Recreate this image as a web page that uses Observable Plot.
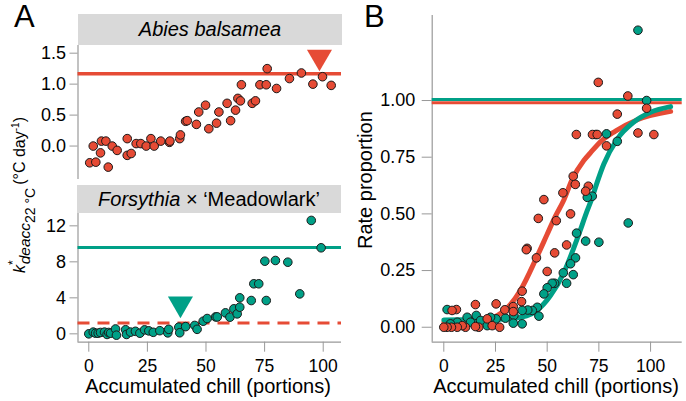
<!DOCTYPE html>
<html><head><meta charset="utf-8">
<script src="https://cdn.jsdelivr.net/npm/d3@7"></script>
<script src="https://cdn.jsdelivr.net/npm/@observablehq/plot@0.6"></script>
<style>
body{margin:0;background:#fff;font-family:"Liberation Sans",Arial,Helvetica,sans-serif;}
#root{position:relative;width:686px;height:401px;overflow:hidden;background:#fff;}
#root svg{position:absolute;left:0;top:0;}
.lbl{position:absolute;white-space:nowrap;color:#000;line-height:24px;}
.strip{position:absolute;background:#d9d9d9;text-align:center;font-size:20px;color:#000;}
</style></head><body><div id="root"></div>
<script>
const RED = "#E64B35", TEAL = "#00A087", AXIS = "#999999";

// Panel A (top): Abies balsamea, k*deacc (°C day-1)
const abiesChill = [0.4,3.0,5.0,1.9,5.4,7.3,10.0,12.1,8.3,16.4,18.1,16.4,20.2,22.2,24.5,26.5,27.9,30.7,34.4,34.6,38.8,39.1,41.3,42.0,45.9,46.9,49.8,51.2,54.5,55.5,59.0,60.5,62.6,63.6,64.7,65.1,69.7,71.1,73.0,75.7,76.1,80.1,85.6,90.7,95.6,99.7,103.4];
const abiesK     = [-0.27,-0.26,-0.11,0.0,0.08,0.08,0.0,-0.07,-0.34,-0.15,-0.12,0.12,0.04,0.04,0.0,0.12,0.0,0.08,0.06,0.08,0.12,0.18,0.40,0.41,0.35,0.55,0.66,0.28,0.37,0.55,0.69,0.41,0.58,0.77,0.73,0.99,0.69,0.73,0.99,0.99,1.25,0.93,1.09,1.18,1.00,1.12,0.98];
const abiesPlateau = 1.166;

// Panel A (bottom): Forsythia x 'Meadowlark'
const forsChill = [0,1.9,2.9,4.0,5.0,6.7,7.8,8.5,9.3,11.4,11.8,15.7,16.1,17.8,19.9,21.8,23.8,25.6,27.5,30.3,33.7,34.1,38.4,38.8,41.3,45.2,46.2,48.8,50.5,54.1,54.8,58.3,60.2,61.9,63.3,64.4,64.4,69.3,70.4,72.5,75.1,75.7,79.6,84.9,90.0,94.9,99.1];
const forsK     = [0,0.19,0.07,0.07,0.15,0.19,-0.07,0.15,0.07,0.54,-0.15,0.45,-0.07,0.19,0.28,0.07,0.44,0.33,0.17,0.35,0.11,0.5,0.74,0.12,0.8,0.93,0.5,1.4,1.7,1.88,1.88,2.33,1.85,2.78,2.22,2.96,4.0,3.7,5.56,5.56,8.07,3.7,8.15,7.96,4.44,12.6,9.56];
const forsPlateau = 9.6;
const abiesPlateauOnForsythia = 1.2;

// Onset markers (triangles)
const onsetChill = [98.4, 39.1];
const onsetK = [1.44, 3.34];

// Panel B: rate proportion
const propAbiesChill = [74.7,89.0,98.1,83.9,64.1,71.9,74.2,93.9,101.6,78.7,62.6,63.6,57.6,69.9,68.6,48.4,45.7,54.4,61.3,40.3,39.9,59.4,53.6,44.8,50.0,37.9,37.6,25.3,15.3,33.6,29.5,6.1,4.0,33.6,21.0,23.4,27.0,16.9,15.3,10.5,8.9,6.5,3.7,1.6,0];
const propAbies      = [1.08,1.02,0.966,0.94,0.85,0.85,0.85,0.857,0.85,0.80,0.666,0.63,0.593,0.622,0.60,0.563,0.48,0.47,0.50,0.348,0.342,0.363,0.328,0.306,0.246,0.159,0.113,0.103,0.10,0.091,0.077,0.078,0.074,0.069,0.037,0.007,0.0,0.0,0.003,0.0,0.007,0.0,0.0,0.0,0.0];
const propForsChill = [93.9,98.1,73.5,78.7,83.9,71.8,69.4,89.2,64.2,68.6,75.0,63.7,61.3,57.8,62.6,53.6,52.4,59.4,50.0,48.4,45.2,42.8,40.6,37.9,46.0,33.9,37.9,33.6,29.8,25.3,15.7,11.3,21.0,17.8,22.6,1.6,6.5,3.2,12.9];
const propFors      = [1.31,1.0,0.85,0.853,0.82,0.578,0.573,0.46,0.415,0.38,0.375,0.306,0.28,0.24,0.232,0.194,0.194,0.194,0.174,0.147,0.088,0.074,0.076,0.074,0.049,0.052,0.015,0.018,0.04,0.037,0.052,0.044,0.007,0.03,0.044,0.078,0.022,0.015,0.022];
const propPlateauAbies = 0.99, propPlateauFors = 1.005;

// fitted curves
const fitAbiesChill = [0,10,20,26,31,37,45,50,54,58,62,67.7,71,76,83,93.6,109.7];
const fitAbies      = [0.022,0.024,0.034,0.052,0.088,0.162,0.31,0.41,0.49,0.56,0.65,0.735,0.77,0.82,0.865,0.915,0.952];
const fitForsChill  = [0,20,30,36,40,45,51.6,58,64.5,69.4,71.8,74.2,77.4,83.9,91.9,100,109.7];
const fitFors       = [0.032,0.034,0.036,0.042,0.05,0.074,0.14,0.24,0.39,0.515,0.573,0.64,0.72,0.83,0.905,0.948,0.973];

const xTicks = [0,25,50,75,100];
const kTicksA = [0,0.5,1,1.5];
const kTicksF = [0,4,8,12];
const propTicks = [0,0.25,0.5,0.75,1];

const zip = (xs, ys) => xs.map((x, i) => ({x, y: ys[i]}));

function panel({frame, xDomain, yDomain, xAxis, yTicks, yFmt, tick, marks}) {
  const [l, t, r, b] = frame;
  const m = [
    Plot.ruleX([xDomain[0]], {stroke: AXIS, strokeWidth: 1.2}),
    Plot.axisY(yTicks, {anchor: "left", label: null, tickSize: tick.ySize, tickPadding: tick.yPad, stroke: AXIS, fill: "#000", tickFormat: yFmt})
  ];
  if (xAxis) {
    m.push(Plot.ruleY([yDomain[0]], {stroke: AXIS, strokeWidth: 1.2}));
    m.push(Plot.axisX(xTicks, {anchor: "bottom", label: null, tickSize: 10, tickPadding: 7, fontSize: 17.5, stroke: AXIS, fill: "#000", tickFormat: d3.format("d")}));
  }
  return Plot.plot({
    width: 686, height: 401,
    marginLeft: l, marginTop: t, marginRight: 686 - r, marginBottom: 401 - b,
    x: {domain: xDomain, axis: null, label: null},
    y: {domain: yDomain, axis: null, label: null},
    style: {background: "transparent", fontFamily: "'Liberation Sans', Arial, sans-serif", fontSize: "18px", overflow: "visible"},
    marks: m.concat(marks)
  });
}

const root = document.getElementById("root");

// Top-left panel
root.appendChild(panel({
  frame: [77.5, 45, 341, 179],
  xDomain: [-4.6, 107.8], yDomain: [-0.54, 1.624],
  xAxis: false, yTicks: kTicksA, yFmt: d3.format(".1f"), tick: {ySize: 8, yPad: 4},
  marks: [
    Plot.ruleY([abiesPlateau], {stroke: RED, strokeWidth: 3.5}),
    Plot.dot(zip(abiesChill, abiesK), {x: "x", y: "y", r: 4.3, fill: RED, stroke: "#1a1a1a", strokeWidth: 1}),
    Plot.dot([{x: onsetChill[0], y: onsetK[0]}], {x: "x", y: "y", symbol: "triangle", r: 9.3, rotate: 180, fill: RED, stroke: "none"})
  ]
}));

// Bottom-left panel
root.appendChild(panel({
  frame: [77.5, 213, 341, 341.7],
  xDomain: [-4.6, 107.8], yDomain: [-0.93, 13.37],
  xAxis: true, yTicks: kTicksF, yFmt: d3.format("d"), tick: {ySize: 8, yPad: 4},
  marks: [
    Plot.ruleY([forsPlateau], {stroke: TEAL, strokeWidth: 3}),
    Plot.ruleY([abiesPlateauOnForsythia], {stroke: RED, strokeWidth: 3, strokeDasharray: "12,8"}),
    Plot.dot(zip(forsChill, forsK), {x: "x", y: "y", r: 4.3, fill: TEAL, stroke: "#1a1a1a", strokeWidth: 1}),
    Plot.dot([{x: onsetChill[1], y: onsetK[1]}], {x: "x", y: "y", symbol: "triangle", r: 9.3, rotate: 180, fill: TEAL, stroke: "none"})
  ]
}));

// Right panel
root.appendChild(panel({
  frame: [431.7, 15, 681.7, 341.7],
  xDomain: [-5.61, 115.3], yDomain: [-0.066, 1.375],
  xAxis: true, yTicks: propTicks, yFmt: d3.format(".2f"), tick: {ySize: 10, yPad: 7},
  marks: [
    Plot.ruleY([propPlateauFors], {stroke: TEAL, strokeWidth: 3}),
    Plot.ruleY([propPlateauAbies], {stroke: RED, strokeWidth: 3}),
    Plot.line(zip(fitAbiesChill, fitAbies), {x: "x", y: "y", stroke: RED, strokeWidth: 5, curve: "monotone-x"}),
    Plot.line(zip(fitForsChill, fitFors), {x: "x", y: "y", stroke: TEAL, strokeWidth: 5, curve: "monotone-x"}),
    Plot.dot(zip(propForsChill, propFors), {x: "x", y: "y", r: 4.3, fill: TEAL, stroke: "#1a1a1a", strokeWidth: 1}),
    Plot.dot(zip(propAbiesChill, propAbies), {x: "x", y: "y", r: 4.3, fill: RED, stroke: "#1a1a1a", strokeWidth: 1})
  ]
}));

// HTML text: panel letters, strips, axis titles
function add(html, style, cls = "lbl") {
  const d = document.createElement("div");
  d.className = cls;
  d.innerHTML = html;
  Object.assign(d.style, style);
  root.appendChild(d);
  return d;
}
add("A", {left: "14px", top: "-1px", fontSize: "31px", lineHeight: "36px"});
add("B", {left: "364px", top: "-1px", fontSize: "31px", lineHeight: "36px"});
add("<i>Abies balsamea</i>", {left: "78px", top: "14px", width: "264px", height: "31px", lineHeight: "31px"}, "strip");
add("<i>Forsythia</i> × ‘Meadowlark’", {left: "77px", top: "185px", width: "264px", height: "28px", lineHeight: "28px"}, "strip");
add("Accumulated chill (portions)", {left: "58px", width: "300px", textAlign: "center", top: "378px", fontSize: "20px", lineHeight: "16px"});
add("Accumulated chill (portions)", {left: "406px", width: "300px", textAlign: "center", top: "378px", fontSize: "20px", lineHeight: "16px"});
add("Rate proportion", {left: "0px", top: "0px", fontSize: "20px", transformOrigin: "0 0", transform: "translate(353px, 249px) rotate(-90deg)"});
add('<i>k</i><span style="position:relative;top:-8px;font-size:12px;margin-right:-4px">*</span>' +
    '<span style="position:relative;top:5px;font-size:15.5px"><i>deacc</i><span style="position:relative;top:5px;font-size:14px">22 °C</span></span>' +
    '<span style="margin-left:3px">(°C day<span style="position:relative;top:-6px;font-size:10px">-1</span>)</span>',
    {left: "0px", top: "0px", fontSize: "16px", transformOrigin: "0 0", transform: "translate(8px, 273px) rotate(-90deg)"});
</script>
</body></html>
